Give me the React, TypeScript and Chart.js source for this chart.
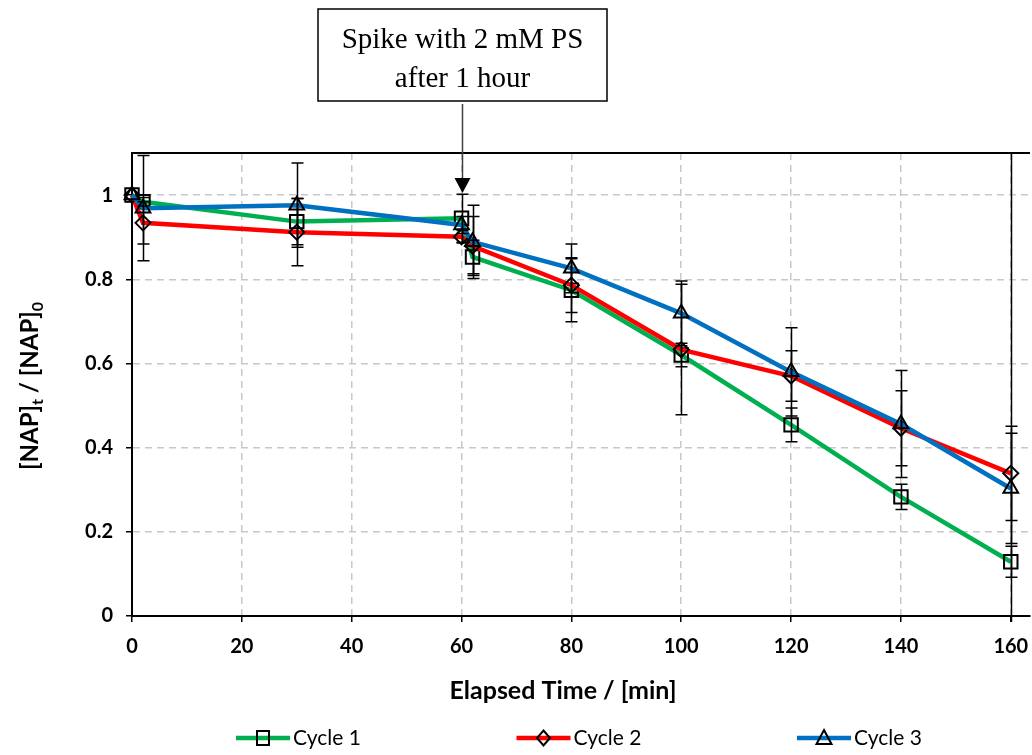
import React, { useEffect, useRef } from 'react';
import { Chart, registerables } from 'chart.js';

Chart.register(...registerables);

// ---- data ----
const times = [0, 2, 30, 60, 62, 80, 100, 120, 140, 160];
const cycle1 = [1.0, 0.984, 0.937, 0.945, 0.853, 0.774, 0.62, 0.454, 0.283, 0.129];
const cycle2 = [1.0, 0.934, 0.912, 0.901, 0.879, 0.786, 0.633, 0.57, 0.446, 0.339];
const cycle3 = [1.0, 0.969, 0.976, 0.929, 0.889, 0.826, 0.719, 0.58, 0.456, 0.303];
const err1 = [0, 0.01, 0.055, 0.057, 0.04, 0.075, 0.028, 0.04, 0.03, 0.037];
const err2 = [0, 0.05, 0.08, 0.015, 0.07, 0.065, 0.155, 0.06, 0.089, 0.112];
const err3 = [0, 0.125, 0.1, 0.02, 0.087, 0.058, 0.077, 0.105, 0.127, 0.131];
const seriesNames = ['Cycle 1', 'Cycle 2', 'Cycle 3'];
const xTickValues = [0, 20, 40, 60, 80, 100, 120, 140, 160];
const yTickValues = [0, 0.2, 0.4, 0.6, 0.8, 1];
const spikeTime = 60;
const annotationLines = ['Spike with 2 mM PS', 'after 1 hour'];
const xTitle = 'Elapsed Time / [min]';
const yTitleParts = [
  { text: '[NAP]', sub: false },
  { text: 't', sub: true },
  { text: ' / [NAP]', sub: false },
  { text: '0', sub: true },
];

// ---- styles ----
const colors = ['#00B050', '#FF0000', '#0070C0'];
const pointStyles = ['rect', 'rectRot', 'triangle'];
const pointRadii = [9.5, 7.5, 8.5];
const FONT = 'Lato, "Liberation Sans", sans-serif';
const SERIF = '"Liberation Serif", "Times New Roman", serif';

const allValues = [cycle1, cycle2, cycle3];
const allErrs = [err1, err2, err3];

function markerPath(ctx: CanvasRenderingContext2D, style: string, x: number, y: number) {
  ctx.beginPath();
  if (style === 'rect') {
    ctx.rect(x - 6, y - 7, 12, 14);
  } else if (style === 'rectRot') {
    ctx.moveTo(x, y - 7.5);
    ctx.lineTo(x + 6.5, y);
    ctx.lineTo(x, y + 7.5);
    ctx.lineTo(x - 6.5, y);
    ctx.closePath();
  } else {
    ctx.moveTo(x, y - 8);
    ctx.lineTo(x + 7.5, y + 6);
    ctx.lineTo(x - 7.5, y + 6);
    ctx.closePath();
  }
}

const decorPlugin = {
  id: 'decor',
  afterDatasetsDraw(chart: any) {
    const ctx: CanvasRenderingContext2D = chart.ctx;
    const xs = chart.scales.x;
    const ys = chart.scales.y;
    ctx.save();
    ctx.strokeStyle = '#000';
    ctx.lineWidth = 1.5;
    allValues.forEach((vals, si) => {
      allErrs[si].forEach((e, i) => {
        if (!e) return;
        const px = Math.round(xs.getPixelForValue(times[i])) + 0.5;
        const yT = ys.getPixelForValue(vals[i] + e);
        const yB = ys.getPixelForValue(vals[i] - e);
        ctx.beginPath();
        ctx.moveTo(px, yT);
        ctx.lineTo(px, yB);
        ctx.moveTo(px - 6, yT);
        ctx.lineTo(px + 6, yT);
        ctx.moveTo(px - 6, yB);
        ctx.lineTo(px + 6, yB);
        ctx.stroke();
      });
    });
    ctx.restore();
  },
  afterDraw(chart: any) {
    const ctx: CanvasRenderingContext2D = chart.ctx;
    const { left, right, top, bottom } = chart.chartArea;
    const xs = chart.scales.x;
    ctx.save();
    // top border
    ctx.strokeStyle = '#000';
    ctx.lineWidth = 2;
    ctx.beginPath();
    ctx.moveTo(left, top);
    ctx.lineTo(right, top);
    ctx.stroke();
    // vertical line at last x tick
    const xEnd = Math.round(xs.getPixelForValue(xTickValues[xTickValues.length - 1])) + 0.5;
    ctx.lineWidth = 1.5;
    ctx.beginPath();
    ctx.moveTo(xEnd, top);
    ctx.lineTo(xEnd, bottom + 6);
    ctx.stroke();

    // x tick labels
    ctx.fillStyle = '#000';
    ctx.font = `bold 20px ${FONT}`;
    ctx.textAlign = 'center';
    ctx.textBaseline = 'middle';
    xTickValues.forEach((v) => {
      ctx.fillText(String(v), xs.getPixelForValue(v), bottom + 31);
    });

    // x title
    ctx.font = `bold 25px ${FONT}`;
    ctx.fillText(xTitle, 563, 691);

    // y title with subscripts
    ctx.save();
    ctx.translate(30, 386);
    ctx.rotate(-Math.PI / 2);
    const mainFont = `bold 24px ${FONT}`;
    const subFont = `bold 16px ${FONT}`;
    let total = 0;
    yTitleParts.forEach((p) => {
      ctx.font = p.sub ? subFont : mainFont;
      total += ctx.measureText(p.text).width;
    });
    let cx = -total / 2;
    ctx.textAlign = 'left';
    ctx.textBaseline = 'alphabetic';
    yTitleParts.forEach((p) => {
      ctx.font = p.sub ? subFont : mainFont;
      ctx.fillText(p.text, cx, p.sub ? 13 : 8);
      cx += ctx.measureText(p.text).width;
    });
    ctx.restore();

    // legend
    const legY = 738;
    const spacing = 280.5;
    seriesNames.forEach((name, i) => {
      const x0 = 236 + i * spacing;
      ctx.strokeStyle = colors[i];
      ctx.lineWidth = 4.5;
      ctx.beginPath();
      ctx.moveTo(x0, legY);
      ctx.lineTo(x0 + 54, legY);
      ctx.stroke();
      ctx.strokeStyle = '#000';
      ctx.lineWidth = 2;
      markerPath(ctx, pointStyles[i], x0 + 27, legY);
      ctx.stroke();
      ctx.fillStyle = '#000';
      ctx.font = `21px ${FONT}`;
      ctx.textAlign = 'left';
      ctx.textBaseline = 'middle';
      ctx.fillText(name, x0 + 57, legY);
    });

    // annotation box + arrow
    const ax = Math.round(xs.getPixelForValue(spikeTime)) + 0.5;
    const bx0 = 318, bx1 = 607, by0 = 9, by1 = 101;
    ctx.fillStyle = '#fff';
    ctx.fillRect(bx0, by0, bx1 - bx0, by1 - by0);
    ctx.strokeStyle = '#000';
    ctx.lineWidth = 1.5;
    ctx.strokeRect(bx0, by0, bx1 - bx0, by1 - by0);
    ctx.fillStyle = '#000';
    ctx.font = `29px ${SERIF}`;
    ctx.textAlign = 'center';
    ctx.textBaseline = 'middle';
    ctx.fillText(annotationLines[0], (bx0 + bx1) / 2, 40);
    ctx.fillText(annotationLines[1], (bx0 + bx1) / 2, 79);
    ctx.strokeStyle = '#404040';
    ctx.lineWidth = 1.5;
    ctx.beginPath();
    ctx.moveTo(ax, by1 + 3);
    ctx.lineTo(ax, 179);
    ctx.stroke();
    ctx.fillStyle = '#000';
    ctx.beginPath();
    ctx.moveTo(ax - 8, 178);
    ctx.lineTo(ax + 8, 178);
    ctx.lineTo(ax, 193);
    ctx.closePath();
    ctx.fill();
    ctx.restore();
  },
};

const gridOpts = {
  color: (c: any) => (c.tick && c.tick.value === 0 ? 'rgba(0,0,0,0)' : '#C8C8C8'),
  lineWidth: 1.5,
  tickColor: '#000',
  tickLength: 6,
  tickWidth: 1.5,
  tickBorderDash: [],
};

export default function App() {
  const ref = useRef<HTMLCanvasElement | null>(null);
  useEffect(() => {
    if (!ref.current) return;
    const datasets = allValues.map((vals, i) => ({
      label: seriesNames[i],
      data: times.map((t, j) => ({ x: t, y: vals[j] })),
      borderColor: colors[i],
      backgroundColor: 'rgba(0,0,0,0)',
      borderWidth: 4.5,
      pointStyle: pointStyles[i],
      pointRadius: pointRadii[i],
      pointBorderColor: '#000',
      pointBackgroundColor: 'rgba(0,0,0,0)',
      pointBorderWidth: 2,
      tension: 0,
      clip: 12,
      order: 2 - i,
    }));
    const chart: any = new Chart(ref.current, {
      type: 'line',
      data: { datasets },
      options: {
        animation: false,
        responsive: false,
        events: [],
        layout: { autoPadding: false, padding: { top: 153, right: 2, left: 0, bottom: 0 } },
        plugins: { legend: { display: false }, tooltip: { enabled: false } },
        scales: {
          x: {
            type: 'linear',
            min: 0,
            max: 163.5,
            afterFit: (s: any) => {
              s.height = 139;
            },
            afterBuildTicks: (s: any) => {
              s.ticks = xTickValues.map((v) => ({ value: v }));
            },
            ticks: { display: false },
            grid: gridOpts,
            border: { color: '#000', width: 2, dash: [7, 5] },
          },
          y: {
            type: 'linear',
            min: 0,
            max: 1.1,
            afterFit: (s: any) => {
              s.width = 132;
            },
            afterBuildTicks: (s: any) => {
              s.ticks = yTickValues.map((v) => ({ value: v }));
            },
            ticks: {
              font: { family: FONT, size: 20, weight: 'bold' },
              color: '#000',
              padding: 13,
              callback: (v: any) => String(Math.round(v * 10) / 10),
            },
            grid: gridOpts,
            border: { color: '#000', width: 2, dash: [7, 5] },
          },
        },
      },
      plugins: [decorPlugin],
    } as any);
    return () => chart.destroy();
  }, []);
  return (
    <div style={{ position: 'fixed', left: 0, top: 0, width: 1032, height: 755, background: '#fff' }}>
      <canvas ref={ref} width={1032} height={755} style={{ display: 'block' }} />
    </div>
  );
}
